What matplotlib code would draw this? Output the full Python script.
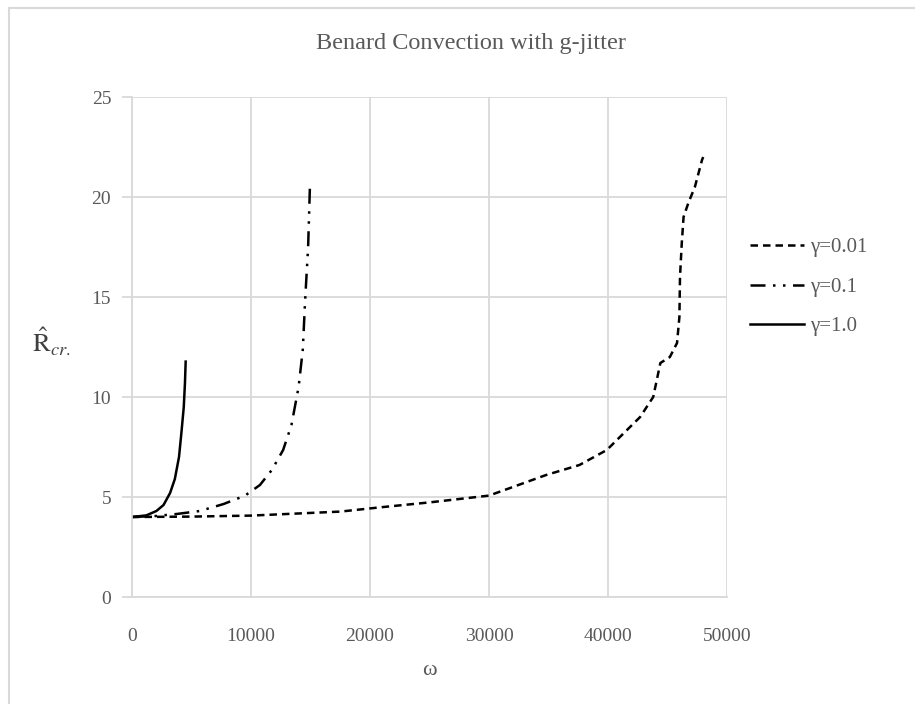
import matplotlib
matplotlib.use("Agg")
import matplotlib.pyplot as plt
from matplotlib.patches import Rectangle

# gamma = 0.01 (dashed)
w_001 = [0, 5000, 10000, 17500, 20800, 25000, 30000, 34800, 37600, 39900,
         41000, 42700, 43800, 44100, 44400, 45200, 45800, 46000, 46050, 46200,
         46350, 46750, 47300, 47900, 48000]
r_001 = [4.0, 4.02, 4.07, 4.27, 4.48, 4.73, 5.07, 6.1, 6.6, 7.35,
         8.0, 9.0, 10.0, 10.85, 11.7, 12.0, 12.7, 14.0, 16.0, 17.7,
         19.0, 19.7, 20.5, 21.85, 22.0]

# gamma = 0.1 (dash-dot-dot)
w_01 = [0, 2000, 3750, 5700, 7700, 9500, 10750, 11750, 12700, 13400,
        14000, 14350, 14550, 14800, 14950]
r_01 = [4.0, 4.05, 4.15, 4.3, 4.65, 5.07, 5.6, 6.35, 7.35, 8.6,
        10.5, 12.35, 14.85, 17.5, 20.5]

# gamma = 1.0 (solid)
w_1 = [0, 1200, 2050, 2650, 3200, 3600, 3950, 4150, 4350, 4450, 4510]
r_1 = [4.0, 4.08, 4.3, 4.6, 5.2, 5.9, 7.0, 8.2, 9.5, 10.7, 11.77]

labels = ["\u03b3=0.01", "\u03b3=0.1", "\u03b3=1.0"]

plt.rcParams["font.family"] = ["Liberation Serif", "DejaVu Serif"]
plt.rcParams["mathtext.fontset"] = "stix"

grey = "#595959"
gridc = "#d9d9d9"

fig = plt.figure(figsize=(9.15, 7.04), dpi=100)
ax = fig.add_axes([132 / 915, 1 - 597 / 704, (727 - 132) / 915, 500 / 704])

ax.plot(w_001, r_001, color="black", lw=1.8, linestyle=(0, (3, 2)), label=labels[0])
ax.plot(w_01, r_01, color="black", lw=1.8, linestyle=(0, (6, 3, 1, 3, 1, 3)), label=labels[1])
ax.plot(w_1, r_1, color="black", lw=1.8, label=labels[2])

ax.set_xlim(0, 50000)
ax.set_ylim(0, 25)
ax.set_xticks(range(0, 50001, 10000))
ax.set_yticks(range(0, 26, 5))
ax.grid(True, color=gridc, lw=1.3)
ax.set_axisbelow(True)
for s in ["top", "right"]:
    ax.spines[s].set_visible(False)
for s in ["left", "bottom"]:
    ax.spines[s].set_color(gridc)
    ax.spines[s].set_linewidth(1.3)
ax.tick_params(axis="y", colors=gridc, length=7, width=1.3, direction="out",
               labelcolor=grey, labelsize=14, pad=8)
ax.tick_params(axis="x", length=0, labelcolor=grey, labelsize=14, pad=22)

ax.set_xlabel("\u03c9", color=grey, fontsize=16, labelpad=12)
ax.set_ylabel(r"$\hat{\mathrm{R}}_{cr.}$", color="#404040", fontsize=19,
              rotation=0, va="center", ha="center")
ax.yaxis.set_label_coords(-0.135, 0.51)

fig.text(471 / 915, 1 - 43 / 704, "Benard Convection with g-jitter",
         ha="center", va="center", fontsize=17.5, color=grey)

ax.legend(loc="center left", bbox_to_anchor=((750 - 132) / 595, 0.62),
          frameon=False, borderaxespad=0, borderpad=0,
          handlelength=2.6, labelspacing=0.95, fontsize=15, labelcolor=grey,
          handletextpad=0.3)

# chart-area border
fig.add_artist(Rectangle((9 / 915, -0.05), 1.1, 1 - 8 / 704 + 0.05,
                         transform=fig.transFigure, fill=False,
                         edgecolor=gridc, lw=1.5))

fig.savefig("out.png", dpi=100, facecolor="white")
